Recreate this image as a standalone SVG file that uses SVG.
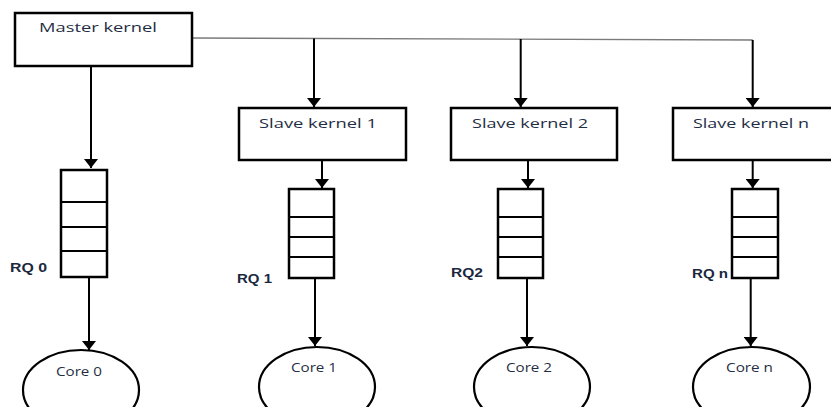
<svg xmlns="http://www.w3.org/2000/svg" width="831" height="407" viewBox="0 0 831 407">
  <style>
    .box { fill: #ffffff; stroke: #000000; stroke-width: 2.5; }
    .q { fill: #ffffff; stroke: #000000; stroke-width: 2.5; }
    .div { stroke: #000000; stroke-width: 1.8; }
    .core { fill: #ffffff; stroke: #000000; stroke-width: 2.2; }
    .conn { stroke: #000000; stroke-width: 2; fill: none; }
    .bus { stroke: #7a7a7a; stroke-width: 1.4; fill: none; }
    .lbl { font-family: "Open Sans", "Liberation Sans", sans-serif; font-size: 12.5px; fill: #1f2e44; }
    .rq { font-family: "Liberation Sans", "Open Sans", sans-serif; font-size: 12px; font-weight: bold; fill: #1a2840; }
  </style>
  <defs>
    <marker id="ah" markerUnits="userSpaceOnUse" markerWidth="10" markerHeight="14" refX="9" refY="7" orient="auto">
      <path d="M0,0 L9,7 L0,14 Z" fill="#000000"/>
    </marker>
  </defs>
  <rect width="831" height="407" fill="#ffffff"/>

  <g id="connectors">
    <path class="bus" d="M192,38 L752.7,40"/>
    <path class="conn" d="M91,66 L91,168" marker-end="url(#ah)"/>
    <path class="conn" d="M314,38.5 L314,107" marker-end="url(#ah)"/>
    <path class="conn" d="M520.7,39 L520.7,107" marker-end="url(#ah)"/>
    <path class="conn" d="M752.7,40 L752.7,107" marker-end="url(#ah)"/>
    <path class="conn" d="M322,160 L322,188" marker-end="url(#ah)"/>
    <path class="conn" d="M528,160 L528,188" marker-end="url(#ah)"/>
    <path class="conn" d="M752.7,160 L752.7,188" marker-end="url(#ah)"/>
    <path class="conn" d="M89,277 L89,350" marker-end="url(#ah)"/>
    <path class="conn" d="M315,278 L315,346" marker-end="url(#ah)"/>
    <path class="conn" d="M527,278 L527,346" marker-end="url(#ah)"/>
    <path class="conn" d="M750.7,278 L750.7,346" marker-end="url(#ah)"/>
  </g>

  <g id="master">
    <rect class="box" x="15" y="13" width="177" height="53"/>
    <text class="lbl" x="39" y="32" textLength="118" lengthAdjust="spacingAndGlyphs">Master kernel</text>
  </g>
  <g id="slave1">
    <rect class="box" x="239" y="108" width="167" height="52"/>
    <text class="lbl" x="259" y="128" textLength="118" lengthAdjust="spacingAndGlyphs">Slave kernel 1</text>
  </g>
  <g id="slave2">
    <rect class="box" x="451" y="108" width="166" height="52"/>
    <text class="lbl" x="472" y="128" textLength="116" lengthAdjust="spacingAndGlyphs">Slave kernel 2</text>
  </g>
  <g id="slaven">
    <rect class="box" x="673" y="108" width="165" height="52"/>
    <text class="lbl" x="693" y="128" textLength="116" lengthAdjust="spacingAndGlyphs">Slave kernel n</text>
  </g>

  <g id="rq0">
    <rect class="q" x="61" y="170" width="46" height="107"/>
    <line class="div" x1="61" y1="202" x2="107" y2="202"/>
    <line class="div" x1="61" y1="227" x2="107" y2="227"/>
    <line class="div" x1="61" y1="251" x2="107" y2="251"/>
    <text class="rq" x="10" y="272" textLength="37" lengthAdjust="spacingAndGlyphs">RQ 0</text>
  </g>
  <g id="rq1">
    <rect class="q" x="289" y="189" width="45" height="89"/>
    <line class="div" x1="289" y1="217" x2="334" y2="217"/>
    <line class="div" x1="289" y1="237" x2="334" y2="237"/>
    <line class="div" x1="289" y1="257" x2="334" y2="257"/>
    <text class="rq" x="237" y="283" textLength="35" lengthAdjust="spacingAndGlyphs">RQ 1</text>
  </g>
  <g id="rq2">
    <rect class="q" x="498" y="189" width="45" height="89"/>
    <line class="div" x1="498" y1="217" x2="543" y2="217"/>
    <line class="div" x1="498" y1="237" x2="543" y2="237"/>
    <line class="div" x1="498" y1="257" x2="543" y2="257"/>
    <text class="rq" x="451" y="277" textLength="32" lengthAdjust="spacingAndGlyphs">RQ2</text>
  </g>
  <g id="rqn">
    <rect class="q" x="732" y="189" width="46" height="89"/>
    <line class="div" x1="732" y1="217" x2="778" y2="217"/>
    <line class="div" x1="732" y1="237" x2="778" y2="237"/>
    <line class="div" x1="732" y1="257" x2="778" y2="257"/>
    <text class="rq" x="692" y="278" textLength="36" lengthAdjust="spacingAndGlyphs">RQ n</text>
  </g>

  <g id="core0">
    <ellipse class="core" cx="81" cy="390" rx="58" ry="40"/>
    <text class="lbl" x="56" y="376" textLength="46" lengthAdjust="spacingAndGlyphs">Core 0</text>
  </g>
  <g id="core1">
    <ellipse class="core" cx="317" cy="387" rx="58" ry="40"/>
    <text class="lbl" x="291" y="372" textLength="46" lengthAdjust="spacingAndGlyphs">Core 1</text>
  </g>
  <g id="core2">
    <ellipse class="core" cx="532" cy="387" rx="58" ry="40"/>
    <text class="lbl" x="506" y="372" textLength="46" lengthAdjust="spacingAndGlyphs">Core 2</text>
  </g>
  <g id="coren">
    <ellipse class="core" cx="751.5" cy="387" rx="58.5" ry="40"/>
    <text class="lbl" x="726" y="372" textLength="47" lengthAdjust="spacingAndGlyphs">Core n</text>
  </g>
</svg>
